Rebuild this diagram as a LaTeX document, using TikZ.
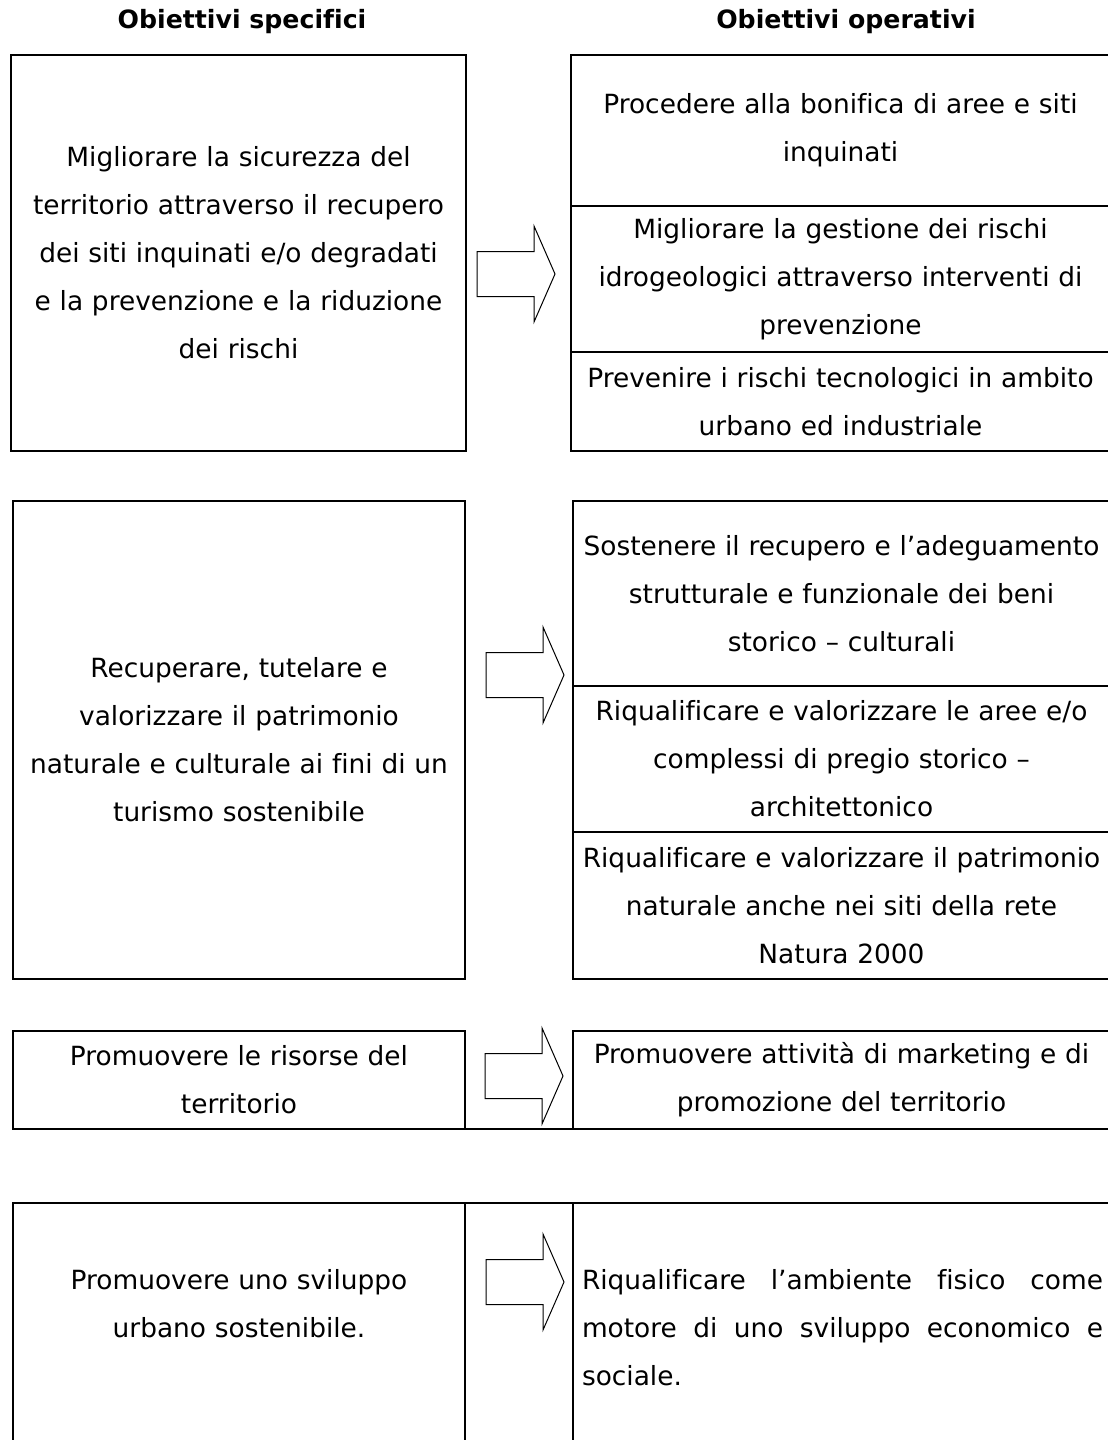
\documentclass[tikz,border=0pt]{standalone}
\usepackage{fontspec}
\setmainfont{DejaVu Sans}[Ligatures=NoCommon]
\usetikzlibrary{positioning}

\tikzset{
  testo/.style={font=\fontsize{13.2}{24}\selectfont},
  cella/.style={testo, draw, line width=0.75pt, inner sep=0pt, outer sep=0pt, align=center},
  spec/.style={cella, anchor=north west, minimum width=226pt, text width=220pt},
  oper/.style={cella, minimum width=268.5pt, text width=264pt},
  titolo/.style={font=\fontsize{12.6}{16}\selectfont\bfseries},
  freccia/.style={draw, line width=0.5pt, fill=white, line join=miter}
}

\begin{document}
\begin{tikzpicture}[x=0.5pt,y=-0.5pt]
\useasboundingbox (0,0) rectangle (1108,1440);

\node[titolo] (hspec) at (242,22) {Obiettivi specifici};
\node[titolo] (hoper) at (846,22) {Obiettivi operativi};

% primo blocco
\node[spec, minimum width=227.5pt, minimum height=198pt] (spec1) at (11,55)
  {Migliorare la sicurezza del\\territorio attraverso il recupero\\dei siti inquinati e/o degradati\\e la prevenzione e la riduzione\\dei rischi};
\node[oper, anchor=north west, minimum width=269.5pt, minimum height=75.5pt] (op11) at (571,55)
  {Procedere alla bonifica di aree e siti\\inquinati};
\node[oper, below=0pt of op11, minimum width=269.5pt, minimum height=73pt] (op12)
  {Migliorare la gestione dei rischi\\idrogeologici attraverso interventi di\\prevenzione};
\node[oper, below=0pt of op12, minimum width=269.5pt, minimum height=49.5pt] (op13)
  {Prevenire i rischi tecnologici in ambito\\urbano ed industriale};

% secondo blocco
\node[spec, minimum height=239pt] (spec2) at (13,501)
  {Recuperare, tutelare e\\valorizzare il patrimonio\\naturale e culturale ai fini di un\\turismo sostenibile};
\node[oper, anchor=north west, minimum height=92.5pt] (op21) at (573,501)
  {Sostenere il recupero e l’adeguamento\\strutturale e funzionale dei beni\\storico – culturali};
\node[oper, below=0pt of op21, minimum height=73pt] (op22)
  {Riqualificare e valorizzare le aree e/o\\complessi di pregio storico –\\architettonico};
\node[oper, below=0pt of op22, minimum height=73.5pt] (op23)
  {Riqualificare e valorizzare il patrimonio\\naturale anche nei siti della rete\\Natura 2000};

% terzo blocco
\node[spec, minimum height=49pt] (spec3) at (13,1031)
  {Promuovere le risorse del\\territorio};
\node[oper, anchor=north west, minimum height=49pt] (op3) at (573,1031)
  {Promuovere attività di marketing e di\\promozione del territorio};
\draw[line width=0.75pt] (spec3.south east) -- (op3.south west);

% quarto blocco (aperto in basso)
\draw[line width=0.75pt] (13,1450) -- (13,1203) -- (1112,1203) -- (1112,1450);
\draw[line width=0.75pt] (465,1203) -- (465,1450) (573,1203) -- (573,1450);
\node[testo, align=center, text width=220pt] (spec4) at (239,1304)
  {Promuovere uno sviluppo\\urbano sostenibile.};
\node[testo, align=justify, text width=260.5pt, inner sep=0pt] (op4) at (842.5,1328)
  {Riqualificare l’ambiente fisico come\linebreak motore di uno sviluppo economico e\linebreak sociale.};

% frecce
\foreach \ax/\ay in {477/274, 486/675, 485/1076, 486/1282} {
  \draw[freccia] (\ax,\ay) ++(0,-22.5) -- ++(57,0) -- ++(0,-25.5) -- ++(21,48)
    -- ++(-21,48) -- ++(0,-25.5) -- ++(-57,0) -- cycle;
}
\end{tikzpicture}
\end{document}
